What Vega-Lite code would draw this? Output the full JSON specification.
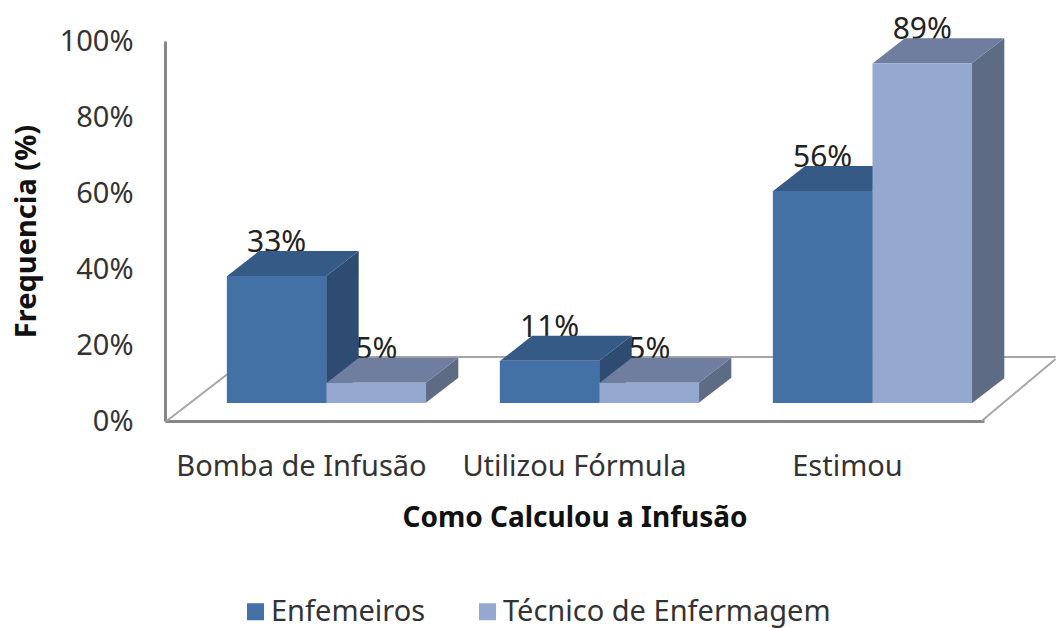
{
"$schema":"https://vega.github.io/schema/vega-lite/v6.json",
"width":819,"height":380,
"autosize":{"type":"none"},
"padding":{"left":165,"top":41,"right":72,"bottom":207},
"background":"white",
"config":{"view":{"stroke":null},"font":"Noto Sans"},
"data":{"values":[
{"metodo":"Bomba de Infusão","grupo":"Enfemeiros","freq":0.334},
{"metodo":"Bomba de Infusão","grupo":"Técnico de Enfermagem","freq":0.053},
{"metodo":"Utilizou Fórmula","grupo":"Enfemeiros","freq":0.111},
{"metodo":"Utilizou Fórmula","grupo":"Técnico de Enfermagem","freq":0.053},
{"metodo":"Estimou","grupo":"Enfemeiros","freq":0.558},
{"metodo":"Estimou","grupo":"Técnico de Enfermagem","freq":0.894}
]},
"encoding":{
"x":{"field":"metodo","type":"nominal","scale":{"domain":["Bomba de Infusão","Utilizou Fórmula","Estimou"],"paddingInner":0.27,"paddingOuter":0.135,"align":0.839},
"axis":{"title":"Como Calculou a Infusão","labelAngle":0,"labelFontSize":29,"labelColor":"#333333","labelPadding":31,"labelOffset":-25,"ticks":false,"domainColor":"#868686","domainWidth":3,"titleFontSize":28,"titleFontWeight":"bold","titleColor":"#111111","titlePadding":23,"labelLimit":300}},
"xOffset":{"field":"grupo","type":"nominal","scale":{"paddingInner":0,"paddingOuter":0}},
"y":{"field":"freq","type":"quantitative","scale":{"domain":[0,1]},
"axis":{"title":"Frequencia (%)","format":".0%","values":[0,0.2,0.4,0.6,0.8,1],"grid":false,"ticks":false,"labelFontSize":29,"labelColor":"#333333","labelPadding":32,"domainColor":"#868686","domainWidth":3,"titleFontSize":29,"titleFontWeight":"bold","titleColor":"#111111","titlePadding":18}}
},
"layer":[
{"data":{"values":[{"metodo":"Bomba de Infusão","grupo":"Enfemeiros","freq":0}]},
 "mark":{"type":"point","shape":"M-110,0L-27,-64L779,-64M705,0L779,-62","size":4,"filled":false,"stroke":"#A6A6A6","strokeWidth":2,"opacity":1}},
{"mark":{"type":"text","fontSize":30,"color":"#222222","yOffset":-18,"dy":-24,"baseline":"alphabetic"},
 "encoding":{"text":{"field":"freq","type":"quantitative","format":".0%"}}},
{"mark":{"type":"point","size":4,"filled":true,"opacity":1,"yOffset":-18},
 "encoding":{
  "shape":{"field":"freq","type":"nominal","legend":null,"scale":{"domain":[0.334,0.053,0.111,0.558,0.894],"range":[
   "M49.5,0L82,-25L82,102L49.5,127Z",
   "M49.5,0L82,-25L82,-5L49.5,20Z",
   "M49.5,0L82,-25L82,17L49.5,42Z",
   "M49.5,0L82,-25L82,187L49.5,212Z",
   "M49.5,0L82,-25L82,315L49.5,340Z"]}},
  "color":{"field":"grupo","type":"nominal","legend":null,"scale":{"domain":["Enfemeiros","Técnico de Enfermagem"],"range":["#2E4B72","#5D6B84"]}}}},
{"mark":{"type":"point","shape":"M-49.5,0L-17.5,-25L82,-25L49.5,0Z","size":4,"filled":true,"opacity":1,"yOffset":-18},
 "encoding":{"color":{"field":"grupo","type":"nominal","legend":null,"scale":{"domain":["Enfemeiros","Técnico de Enfermagem"],"range":["#355A86","#6F7E9E"]}}}},
{"mark":{"type":"bar","yOffset":-18,"y2Offset":-18},
 "encoding":{"color":{"field":"grupo","type":"nominal","scale":{"domain":["Enfemeiros","Técnico de Enfermagem"],"range":["#4371A6","#95A9D0"]},
  "legend":{"title":null,"orient":"none","legendX":76,"legendY":556,"direction":"horizontal","symbolType":"square","symbolSize":289,"symbolStrokeWidth":0,"labelFontSize":29,"labelColor":"#333333","columnPadding":47,"labelOffset":1,"labelLimit":400}}}}
],
"resolve":{"scale":{"color":"independent","shape":"independent"}}
}
